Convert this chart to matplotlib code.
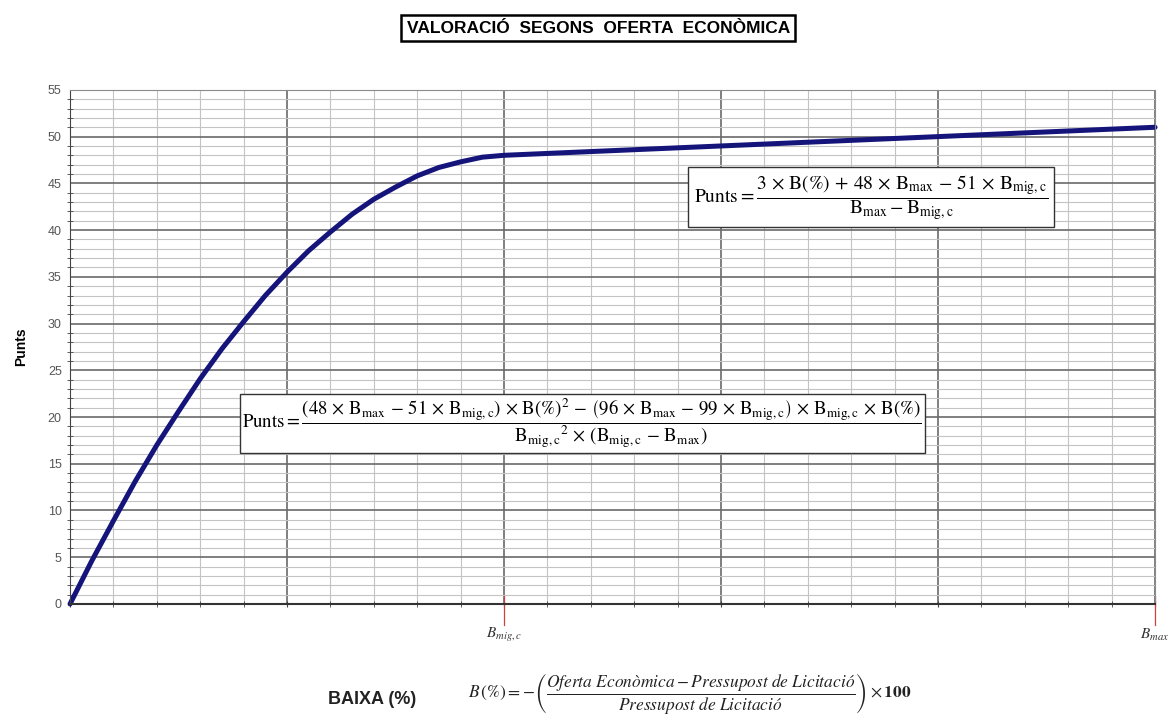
#coding:utf-8

#
# valoracio segons oferta economica: punts vs baixa (%)
#

import numpy as np
from matplotlib import pyplot as plt

plt.rcParams['mathtext.fontset'] = 'stix'
plt.rcParams['font.family'] = ['Liberation Sans', 'DejaVu Sans']

# baixa in grid steps (B_mig,c at 10, B_max at 25)
baixa = [0, 0.5, 1, 1.5, 2, 2.5, 3, 3.5, 4, 4.5, 5, 5.5, 6, 6.5, 7, 7.5,
	8, 8.5, 9, 9.5, 10, 25]
punts = [0, 4.6, 8.9, 13.1, 17.0, 20.6, 24.1, 27.3, 30.2, 33.0, 35.5, 37.8,
	39.8, 41.7, 43.3, 44.6, 45.8, 46.7, 47.3, 47.8, 48.0, 51.0]

b_mig = 10
b_max = 25
y_ticks = list(range(0, 56, 5))

title = 'VALORACIÓ  SEGONS  OFERTA  ECONÒMICA'
formula_lin = (r'$\mathrm{Punts} = \dfrac{3 \,\times\, \mathrm{B}(\%) \,+\, 48 \,\times\, \mathrm{B_{max}}'
	r' \,-\, 51 \,\times\, \mathrm{B_{mig,c}}}{\mathrm{B_{max}} - \mathrm{B_{mig,c}}}$')
formula_quad = (r'$\mathrm{Punts} = \dfrac{\left(48 \,\times\, \mathrm{B_{max}} \,-\, 51 \,\times\, \mathrm{B_{mig,c}}\right)'
	r'\,\times\, \mathrm{B}(\%)^2 \,-\, \left(96 \,\times\, \mathrm{B_{max}} \,-\, 99 \,\times\, \mathrm{B_{mig,c}}\right)'
	r'\,\times\, \mathrm{B_{mig,c}} \,\times\, \mathrm{B}(\%)}'
	r'{\mathrm{B_{mig,c}}^2 \,\times\, \left(\mathrm{B_{mig,c}} \,-\, \mathrm{B_{max}}\right)}$')
formula_baixa = (r'$B\,(\%) = -\left(\dfrac{\mathit{Oferta\ Econòmica} - \mathit{Pressupost\ de\ Licitació}}'
	r'{\mathit{Pressupost\ de\ Licitació}}\right)\times \mathbf{100}$')


fig = plt.figure(figsize=(11.73, 7.19), dpi=100)
ax = fig.add_axes([0.0597, 0.160, 0.925, 0.715])

ax.set_xlim(0, 25)
ax.set_ylim(0, 55)

# grid
ax.set_xticks(np.arange(0, 26, 5))
ax.set_xticks(np.arange(0, 26, 1), minor=True)
ax.set_yticks(y_ticks)
ax.set_yticks(np.arange(0, 56, 1), minor=True)
ax.grid(which='minor', color='#c4c4c4', lw=0.8)
ax.grid(which='major', color='#6a6a6a', lw=1.2)
ax.set_axisbelow(True)
ax.tick_params(axis='x', which='both', labelbottom=False, direction='inout', length=5, color='#444444')
ax.tick_params(axis='y', which='major', direction='inout', length=0, labelsize=9, labelcolor='#555555', pad=6)
ax.tick_params(axis='y', which='minor', direction='inout', length=5, color='#444444')
for s in ['top', 'right']:
	ax.spines[s].set_color('#8a8a8a')
ax.spines['left'].set_color('#444444')
ax.spines['bottom'].set_color('#333333')
ax.spines['bottom'].set_linewidth(1.5)

ax.plot(baixa, punts, color='#14147a', lw=3.6, solid_capstyle='round', clip_on=False)

# red marks for B_mig,c and B_max
for b in [b_mig, b_max]:
	ax.plot([b, b], [-2.2, 0.8], color='#d04040', lw=0.9, clip_on=False)
ax.text(b_mig, -3.3, r'$B_{mig,c}$', ha='center', va='center', fontsize=11, color='#333333')
ax.text(b_max, -3.3, r'$B_{max}$', ha='center', va='center', fontsize=11, color='#333333')

# formula boxes
ax.text(18.45, 43.5, formula_lin, ha='center', va='center', fontsize=14,
	bbox=dict(facecolor='white', edgecolor='#333333', lw=1.0, boxstyle='square,pad=0.3'))
ax.text(11.8, 19.3, formula_quad, ha='center', va='center', fontsize=13.5,
	bbox=dict(facecolor='white', edgecolor='#333333', lw=1.0, boxstyle='square,pad=0.15'))

ax.set_ylabel('Punts', fontsize=10, fontweight='bold', labelpad=14)

# title, boxed
fig.text(0.51, 0.961, title, ha='center', va='center', fontsize=12.5, fontweight='bold',
	bbox=dict(facecolor='white', edgecolor='black', lw=1.8, boxstyle='square,pad=0.3'))

# x label and baixa definition
fig.text(0.317, 0.027, 'BAIXA (%)', ha='center', va='center', fontsize=13, fontweight='bold',
	color='#222222')
fig.text(0.588, 0.036, formula_baixa, ha='center', va='center', fontsize=12.5, color='#222222')

fig.savefig('out.png', dpi=100)
